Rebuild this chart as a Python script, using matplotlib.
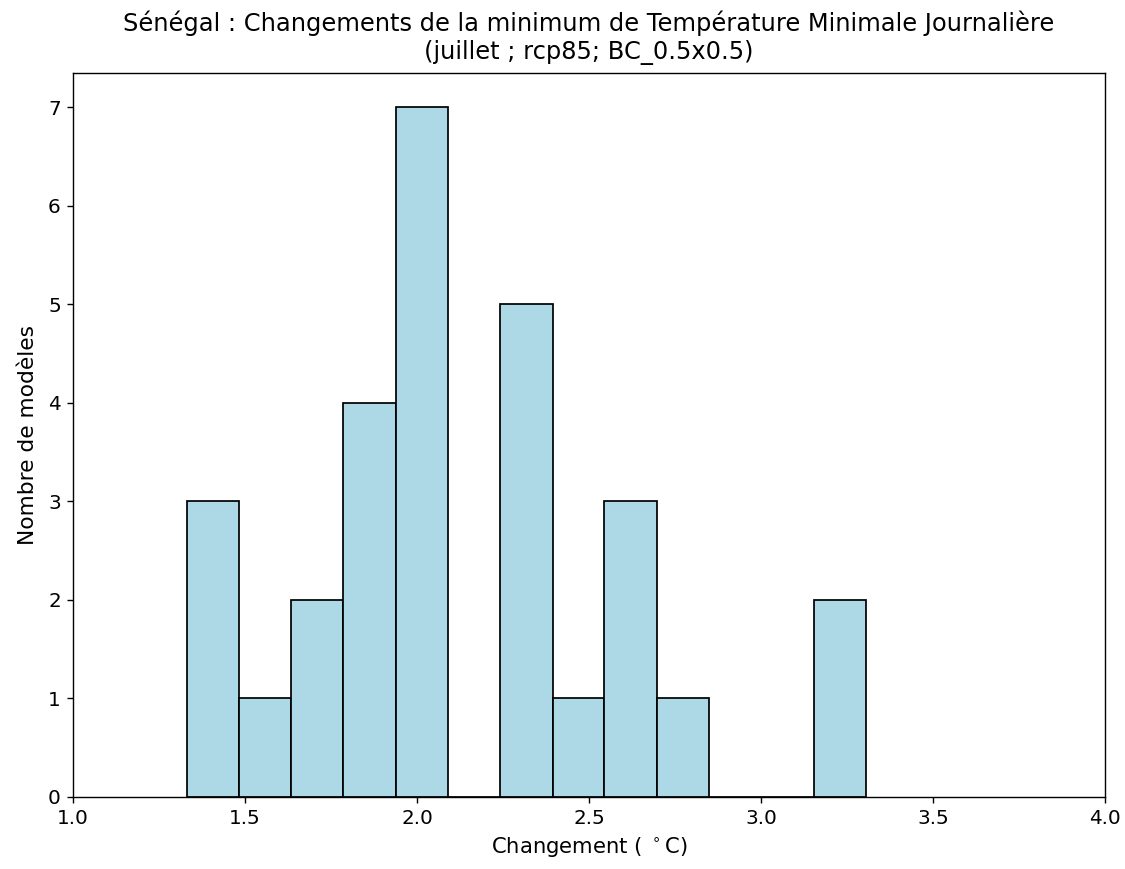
import matplotlib
matplotlib.use("Agg")
import matplotlib.pyplot as plt
import numpy as np

# Bin edges (°C) and model counts per bin
bin_edges = [1.331, 1.483, 1.635, 1.786, 1.938, 2.090, 2.242, 2.394,
             2.545, 2.697, 2.849, 3.001, 3.153, 3.305]
counts = [3, 1, 2, 4, 7, 0, 5, 1, 3, 1, 0, 0, 2]

title = ("Sénégal : Changements de la minimum de Température Minimale Journalière\n"
         "(juillet ; rcp85; BC_0.5x0.5)")
xlabel = "Changement ( $^\\circ$C)"
ylabel = "Nombre de modèles"

fig = plt.figure(figsize=(9.0, 6.952), dpi=125)
ax = fig.add_axes([73/1125, 1-797/869, (1105-73)/1125, (797-73)/869])

edges = np.array(bin_edges)
ax.hist(edges[:-1], bins=edges, weights=counts, color="lightblue",
        edgecolor="black", linewidth=1.0)
ax.set_xlim(1.0, 4.0)
ax.tick_params(labelsize=11.5)
ax.set_title(title, fontsize=13.9, pad=8)
ax.set_xlabel(xlabel, fontsize=12.2)
ax.set_ylabel(ylabel, fontsize=12.5, labelpad=6)

fig.savefig("out.png", dpi=125)
